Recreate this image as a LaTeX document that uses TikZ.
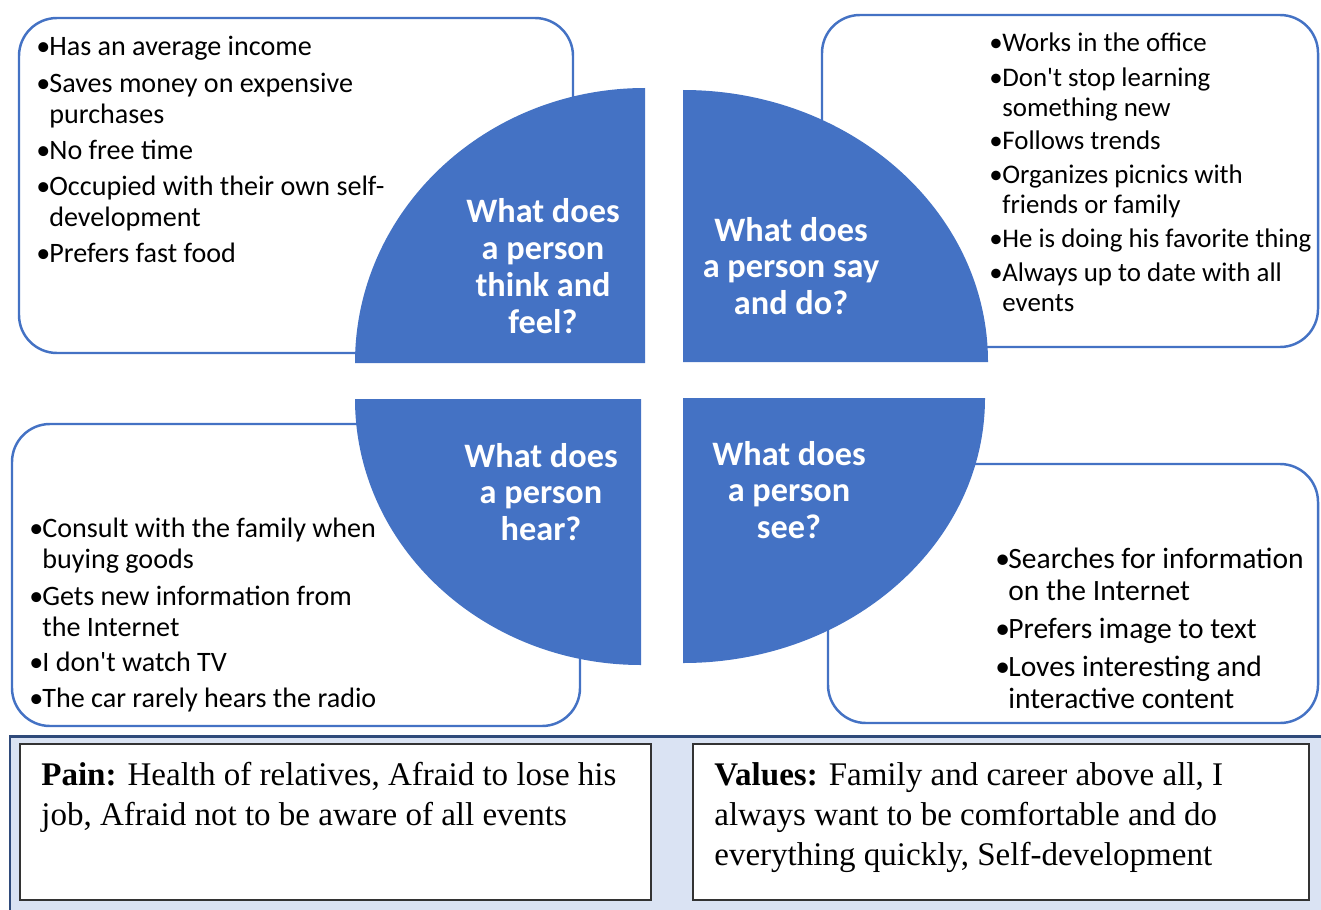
\documentclass[tikz,border=0pt]{standalone}
\usepackage{fontspec}
\setmainfont{Carlito}
\newfontfamily\notefont{Liberation Serif}
\definecolor{quarterblue}{HTML}{4472C4}
\definecolor{panelfill}{HTML}{DAE3F3}
\definecolor{panelline}{HTML}{2F4A7A}
\newcommand{\bul}{\makebox[7.4pt][l]{•}}
\newcommand{\ind}{\hspace*{7.4pt}}
\tikzset{
    quarter/.style={fill=quarterblue, draw=none},
    listbox/.style={draw=quarterblue, line width=1.4pt, fill=white, rounded corners=0.76cm},
    itemtext/.style={anchor=base west, align=left, inner sep=0mm, font=\fontsize{16}{17.6}\selectfont},
    saydoitem/.style={itemtext, font=\fontsize{15.3}{17}\selectfont},
    seeitem/.style={itemtext, font=\fontsize{16.8}{18.1}\selectfont},
    qtitle/.style={text=white, align=center, inner sep=0mm, font=\bfseries\fontsize{19.5}{21}\selectfont},
    panel/.style={fill=panelfill, draw=panelline, line width=1.7pt},
    notebox/.style={fill=white, draw=black!80, line width=0.8pt},
    notetext/.style={anchor=base west, align=left, inner sep=0mm, font=\notefont\fontsize{18.8}{22.7}\selectfont}
}

\begin{document}
\begin{tikzpicture}[x=0.02cm, y=-0.02cm]
    \useasboundingbox (0,0) rectangle (1321,909);

    \draw[listbox] (19,18) rectangle (573,353);
    \draw[listbox] (822,15) rectangle (1318,347);
    \draw[listbox] (12,424) rectangle (580,726);
    \draw[listbox] (828,464) rectangle (1318,723);

    \fill[quarter] (645,363) -- (355,363) arc[start angle=180, end angle=270, x radius=290, y radius=275] -- cycle;
    \fill[quarter] (683,362) -- (683,90) arc[start angle=270, end angle=360, x radius=305, y radius=272] -- cycle;
    \fill[quarter] (641,399) -- (355,399) arc[start angle=180, end angle=90, x radius=286, y radius=266] -- cycle;
    \fill[quarter] (683,398) -- (985,398) arc[start angle=0, end angle=90, x radius=302, y radius=265] -- cycle;

    \node (tf) at (543, 266) [qtitle] {What does\\a person\\think and\\feel?};
    \node (sd) at (791, 266) [qtitle] {What does\\a person say\\and do?};
    \node (hr) at (541, 492) [qtitle] {What does\\a person\\hear?};
    \node (se) at (789, 490) [qtitle] {What does\\a person\\see?};

    % items sit on the baseline of their last line
    \node (tf1) at (36, 56) [itemtext] {\bul Has an average income};
    \node (tf2) at (36, 123) [itemtext] {\bul Saves money on expensive\\\ind purchases};
    \node (tf3) at (36, 159) [itemtext] {\bul No free time};
    \node (tf4) at (36, 226) [itemtext] {\bul Occupied with their own self-\\\ind development};
    \node (tf5) at (36, 262) [itemtext] {\bul Prefers fast food};

    \node (sd1) at (989, 52) [saydoitem] {\bul Works in the office};
    \node (sd2) at (989, 116) [saydoitem] {\bul Don\textquotesingle t stop learning\\\ind something new};
    \node (sd3) at (989, 150) [saydoitem] {\bul Follows trends};
    \node (sd4) at (989, 213) [saydoitem] {\bul Organizes picnics with\\\ind friends or family};
    \node (sd5) at (989, 247) [saydoitem] {\bul He is doing his favorite thing};
    \node (sd6) at (989, 311) [saydoitem] {\bul Always up to date with all\\\ind events};

    \node (hr1) at (29, 568) [itemtext] {\bul Consult with the family when\\\ind buying goods};
    \node (hr2) at (29, 636) [itemtext] {\bul Gets new information from\\\ind the Internet};
    \node (hr3) at (29, 671) [itemtext] {\bul I don\textquotesingle t watch TV};
    \node (hr4) at (29, 707) [itemtext] {\bul The car rarely hears the radio};

    \node (se1) at (995, 600) [seeitem] {\bul Searches for information\\\ind on the Internet};
    \node (se2) at (995, 638) [seeitem] {\bul Prefers image to text};
    \node (se3) at (995, 708) [seeitem] {\bul Loves interesting and\\\ind interactive content};

    % pain and values panel
    \draw[panel] (10,736) rectangle (1326,914);
    \draw[notebox] (20,744) rectangle (651,900);
    \draw[notebox] (693,744) rectangle (1309,900);
    \node (pain) at (41, 825) [notetext] {\textbf{Pain:} Health of relatives, Afraid to lose his\\job, Afraid not to be aware of all events};
    \node (values) at (714, 865) [notetext] {\textbf{Values:} Family and career above all, I\\always want to be comfortable and do\\everything quickly, Self-development};
\end{tikzpicture}
\end{document}
